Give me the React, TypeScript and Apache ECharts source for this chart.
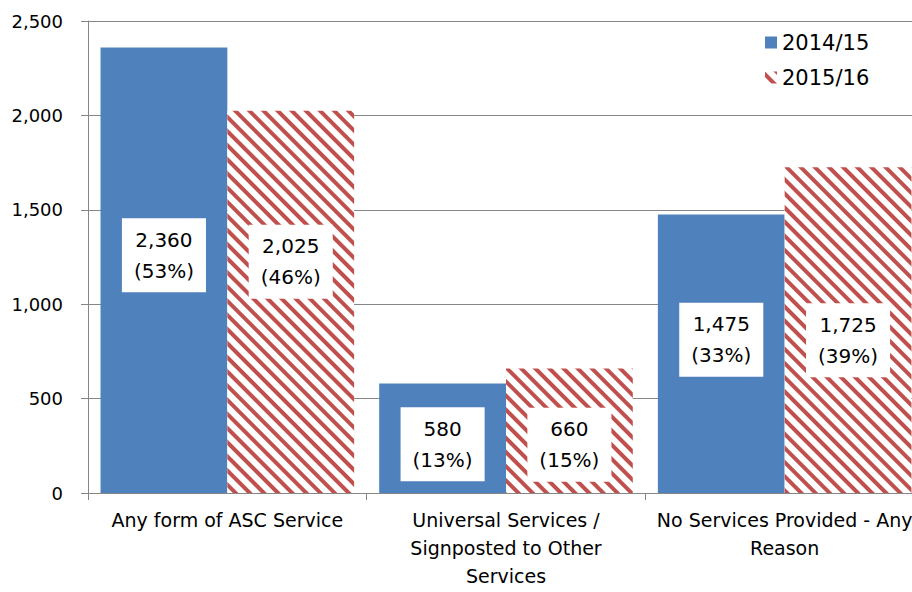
import React, { useEffect, useRef } from "react";
import * as echarts from "echarts";

const categories = [
  "Any form of ASC Service",
  "Universal Services /\nSignposted to Other\nServices",
  "No Services Provided - Any\nReason",
];
const seriesNames = ["2014/15", "2015/16"];
const values1415 = [2360, 580, 1475];
const values1516 = [2025, 660, 1725];
const pct1415 = [53, 13, 33];
const pct1516 = [46, 15, 39];
const yTicks = { min: 0, max: 2500, interval: 500 };

// vertical nudges of the data-label boxes (px), as placed in the reference
const labelDy1415 = [-15, 6, -14];
const labelDy1516 = [-40, 14, 10];

const BLUE = "#4F81BD";
const RED = "#C0504D";
const FONT = "DejaVu Sans";

function fmt(v: number) {
  return v.toLocaleString("en-US");
}

export default function App() {
  const ref = useRef<HTMLDivElement>(null);
  useEffect(() => {
    if (!ref.current) return;
    const chart = echarts.init(ref.current, undefined, { renderer: "svg" });
    const labelBase = {
      show: true,
      position: "inside",
      backgroundColor: "#fff",
      padding: [6, 12],
      color: "#000",
      fontFamily: FONT,
      fontSize: 20,
      lineHeight: 31,
      align: "center",
    };
    const mk = (vals: number[], pcts: number[], dys: number[]) =>
      vals.map((v, i) => ({
        value: v,
        label: {
          ...labelBase,
          offset: [0, dys[i]],
          formatter: `${fmt(v)}\n(${pcts[i]}%)`,
        },
      }));
    chart.setOption({
      animation: false,
      grid: {
        left: 88,
        top: 21,
        width: 836,
        height: 472,
        containLabel: false,
        outerBoundsMode: "none",
      },
      legend: {
        orient: "vertical",
        left: 760,
        top: 27,
        itemWidth: 12,
        itemHeight: 12,
        itemGap: 14,
        icon: "rect",
        textStyle: { fontFamily: FONT, fontSize: 21, color: "#000" },
        data: seriesNames,
      },
      xAxis: {
        type: "category",
        data: categories,
        boundaryGap: true,
        axisLine: { lineStyle: { color: "#868686", width: 1 } },
        axisTick: { show: true, length: 7, interval: 0, lineStyle: { color: "#868686" } },
        axisLabel: {
          interval: 0,
          margin: 13,
          fontFamily: FONT,
          fontSize: 19,
          lineHeight: 28,
          color: "#000",
          hideOverlap: false,
        },
      },
      yAxis: {
        type: "value",
        min: yTicks.min,
        max: yTicks.max,
        interval: yTicks.interval,
        axisLine: { show: true, lineStyle: { color: "#868686", width: 1 } },
        axisTick: { show: true, length: 7, lineStyle: { color: "#868686" } },
        splitLine: { lineStyle: { color: "#868686", width: 1 } },
        axisLabel: {
          margin: 25,
          fontFamily: FONT,
          fontSize: 18,
          color: "#000",
          formatter: (v: number) => fmt(v),
        },
      },
      series: [
        {
          name: seriesNames[0],
          type: "bar",
          barGap: "0%",
          barCategoryGap: "9%",
          itemStyle: { color: BLUE },
          data: mk(values1415, pct1415, labelDy1415),
        },
        {
          name: seriesNames[1],
          type: "bar",
          barGap: "0%",
          barCategoryGap: "9%",
          itemStyle: {
            color: "#fff",
            decal: {
              symbol: "rect",
              symbolSize: 1,
              color: RED,
              dashArrayX: [1, 0],
              dashArrayY: [3.5, 5.5],
              rotation: Math.PI / 4,
            },
          },
          data: mk(values1516, pct1516, labelDy1516),
        },
      ],
    });
    return () => chart.dispose();
  }, []);
  return (
    <div
      ref={ref}
      style={{ position: "fixed", left: 0, top: 0, width: 912, height: 592, background: "#fff" }}
    />
  );
}
